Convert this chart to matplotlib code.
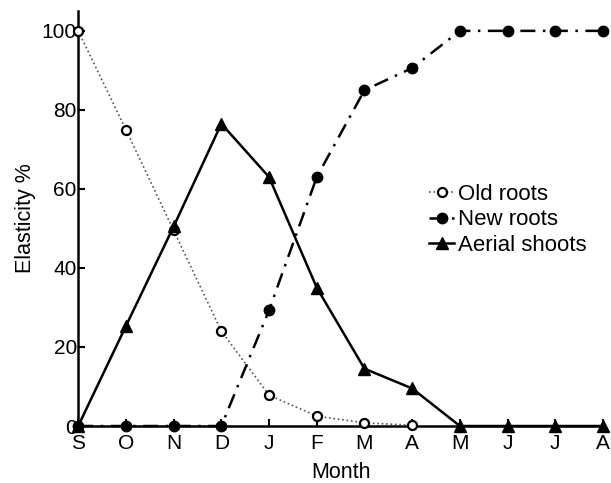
import numpy as np
import matplotlib.pyplot as plt

plt.rcParams['font.family'] = ['Liberation Sans', 'DejaVu Sans']

months = ['S', 'O', 'N', 'D', 'J', 'F', 'M', 'A', 'M', 'J', 'J', 'A']
old_roots = [100, 75, 49.5, 24, 7.8, 2.5, 0.8, 0.2]
new_roots = [0, 0, 0, 0, 29.3, 63, 85, 90.6, 100, 100, 100, 100]
aerial = [0, 25.3, 50.5, 76.5, 63, 35, 14.5, 9.5, 0, 0, 0, 0]

x = np.arange(len(months))

fig = plt.figure(figsize=(6.11, 4.83), dpi=100)
ax = fig.add_axes([0.128, 0.118, 0.859, 0.859])

ax.plot(x[:len(old_roots)], old_roots, ':', color='#555555', lw=1.2,
        marker='o', mfc='white', mec='black', mew=1.6, ms=6.5,
        label='Old roots', clip_on=False, zorder=3)
ax.plot(x, new_roots, '-.', color='black', lw=1.8, dashes=(6, 3, 1, 3),
        marker='o', mfc='black', mec='black', ms=7.5,
        label='New roots', clip_on=False, zorder=4)
ax.plot(x, aerial, '-', color='black', lw=1.8,
        marker='^', mfc='black', mec='black', ms=9,
        label='Aerial shoots', clip_on=False, zorder=5)

ax.set_xlim(0, 11)
ax.set_ylim(0, 105)
ax.set_xticks(x)
ax.set_xticklabels(months)
ax.set_yticks([0, 20, 40, 60, 80, 100])
ax.spines['top'].set_visible(False)
ax.spines['right'].set_visible(False)
ax.spines['left'].set_linewidth(1.8)
ax.spines['bottom'].set_linewidth(1.8)
ax.tick_params(direction='in', length=5, width=1.5, labelsize=15)
ax.tick_params(axis='x', pad=6)
ax.tick_params(axis='y', pad=1)
ax.set_xlabel('Month', fontsize=15.5, labelpad=6)
ax.set_ylabel('Elasticity %', fontsize=15.5, labelpad=4)

ax.legend(loc='upper left', bbox_to_anchor=(0.648, 0.61), frameon=False,
          fontsize=16, handlelength=1.1, handletextpad=0.2,
          labelspacing=0.2, borderpad=0)

plt.savefig('out.png', dpi=100)
